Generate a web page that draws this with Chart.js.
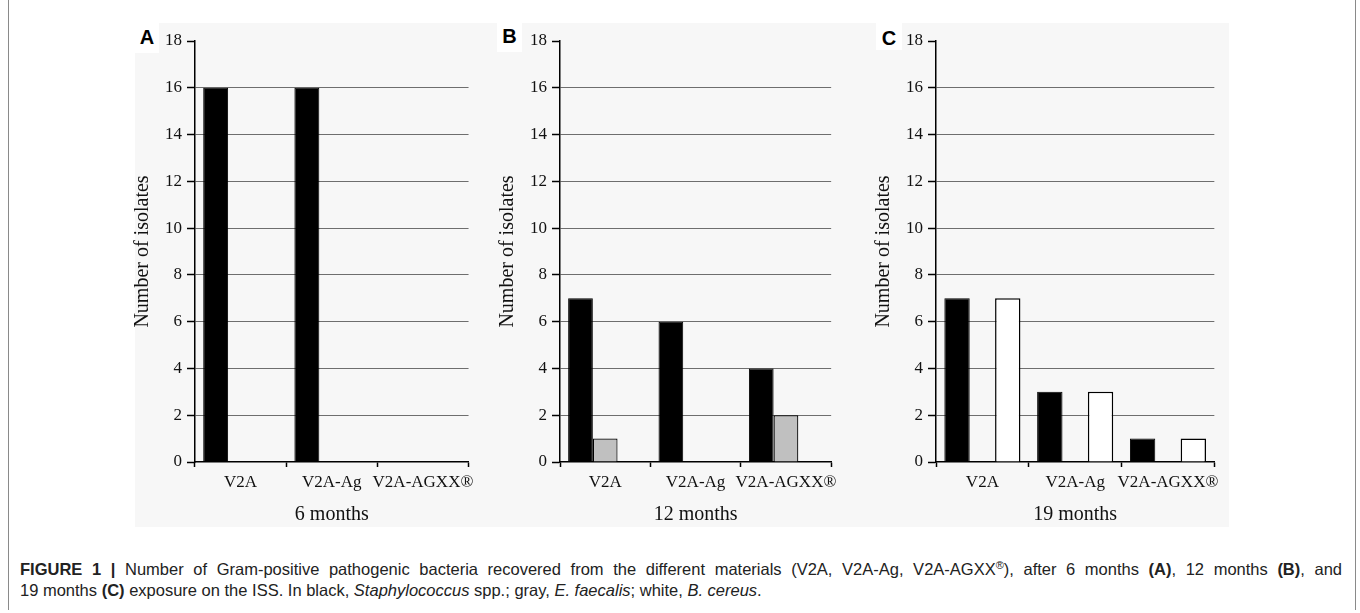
<!DOCTYPE html>
<html>
<head>
<meta charset="utf-8">
<script src="https://cdn.jsdelivr.net/npm/chart.js@4.4.1/dist/chart.umd.min.js"></script>
<style>
  body { margin: 0; background: #fff; width: 1360px; height: 613px; position: relative; overflow: hidden; }
  .frame { position: absolute; left: 8px; top: 0; width: 1346px; height: 610px; border-left: 1.5px solid #8a8a8a; border-right: 1.5px solid #8a8a8a; }
  .panelbg { position: absolute; left: 135px; top: 23px; width: 1094px; height: 504px; background: #f7f7f7; }
  canvas { position: absolute; }
  .tag { position: absolute; background: #fff; font: bold 20px "Liberation Sans", Arial, sans-serif; color: #000; text-align: center; }
  .caption { position: absolute; left: 20px; top: 559px; width: 1322px; font: 16.5px/21px "Liberation Sans", Arial, sans-serif; color: #222; }
  .caption .l1 { white-space: nowrap; text-align: justify; text-align-last: justify; }
  .caption .l2 { white-space: nowrap; }
  .caption b { font-weight: bold; }
  .caption sup { font-size: 11px; line-height: 0; vertical-align: 6px; }
</style>
</head>
<body>
<div class="frame"></div>
<div class="panelbg"></div>
<canvas id="chartA" width="355" height="510" style="left:125px; top:20px;"></canvas>
<canvas id="chartB" width="353" height="510" style="left:490px; top:20px;"></canvas>
<canvas id="chartC" width="359" height="510" style="left:866px; top:20px;"></canvas>
<div class="tag" style="left:135px; top:23px; width:24px; height:30px; line-height:28px;">A</div>
<div class="tag" style="left:497px; top:23px; width:25px; height:29px; line-height:26px;">B</div>
<div class="tag" style="left:876px; top:23px; width:26px; height:27px; line-height:30px;">C</div>
<div class="caption">
  <div class="l1"><b>FIGURE 1 |</b> Number of Gram-positive pathogenic bacteria recovered from the different materials (V2A, V2A-Ag, V2A-AGXX<sup>®</sup>), after 6 months <b>(A)</b>, 12 months <b>(B)</b>, and</div>
  <div class="l2">19 months <b>(C)</b> exposure on the ISS. In black, <i>Staphylococcus</i> spp.; gray, <i>E. faecalis</i>; white, <i>B. cereus</i>.</div>
</div>

<script>
// materials on the x axis
const materials = ['V2A', 'V2A-Ag', 'V2A-AGXX®'];

// number of isolates per material: Staphylococcus (black), E. faecalis (gray), B. cereus (white)
const staph6 = [16, 16, 0];
const faecalis6 = [0, 0, 0];
const cereus6 = [0, 0, 0];

const staph12 = [7, 6, 4];
const faecalis12 = [1, 0, 2];
const cereus12 = [0, 0, 0];

const staph19 = [7, 3, 1];
const faecalis19 = [0, 0, 0];
const cereus19 = [7, 3, 1];

const yTicks = [0, 2, 4, 6, 8, 10, 12, 14, 16, 18];

const serif = '"Liberation Serif", "Times New Roman", serif';

function makeChart(id, period, black, gray, white) {
    const ctx = document.getElementById(id);
    return new Chart(ctx, {
        type: 'bar',
        data: {
            labels: materials,
            datasets: [
                { label: 'Staphylococcus spp.', data: black, backgroundColor: '#000', borderColor: '#000', borderWidth: 1 },
                { label: 'E. faecalis', data: gray, backgroundColor: '#c0c0c0', borderColor: '#000',
                  borderWidth: c => c.raw ? 1.2 : 0 },
                { label: 'B. cereus', data: white, backgroundColor: '#fff', borderColor: '#000',
                  borderWidth: c => c.raw ? 1.5 : 0 }
            ]
        },
        options: {
            responsive: false,
            animation: false,
            devicePixelRatio: 1,
            layout: { padding: { top: 21, right: 10, bottom: 0, left: 0 } },
            plugins: { legend: { display: false }, tooltip: { enabled: false } },
            datasets: { bar: { categoryPercentage: 0.82, barPercentage: 1.0, borderSkipped: 'start' } },
            scales: {
                x: {
                    afterFit: s => { s.height = 68; },
                    grid: { drawOnChartArea: false, drawTicks: true, tickLength: 5, tickColor: '#000', tickWidth: 1.5 },
                    border: { display: true, color: '#000', width: 1.5 },
                    ticks: { color: '#111', font: { family: serif, size: 17 }, padding: 5, maxRotation: 0, autoSkip: false },
                    title: { display: true, text: period, color: '#111', font: { family: serif, size: 20 }, padding: { top: 0, bottom: 3 } }
                },
                y: {
                    min: 0,
                    max: 18,
                    afterFit: s => { s.width = 70; },
                    afterBuildTicks: s => { s.ticks = yTicks.map(v => ({ value: v })); },
                    grid: {
                        color: c => (c.tick && (c.tick.value === 0 || c.tick.value === 18)) ? 'rgba(0,0,0,0)' : '#6e6e6e',
                        tickColor: '#000',
                        tickLength: 8,
                        tickWidth: 1.5,
                        lineWidth: 1
                    },
                    border: { display: true, color: '#000', width: 1.5 },
                    ticks: { color: '#111', font: { family: serif, size: 17 }, padding: 5 },
                    title: { display: true, text: 'Number of isolates', color: '#111', font: { family: serif, size: 20 }, padding: { top: 6, bottom: 0 } }
                }
            }
        }
    });
}

makeChart('chartA', '6 months', staph6, faecalis6, cereus6);
makeChart('chartB', '12 months', staph12, faecalis12, cereus12);
makeChart('chartC', '19 months', staph19, faecalis19, cereus19);
</script>
</body>
</html>
